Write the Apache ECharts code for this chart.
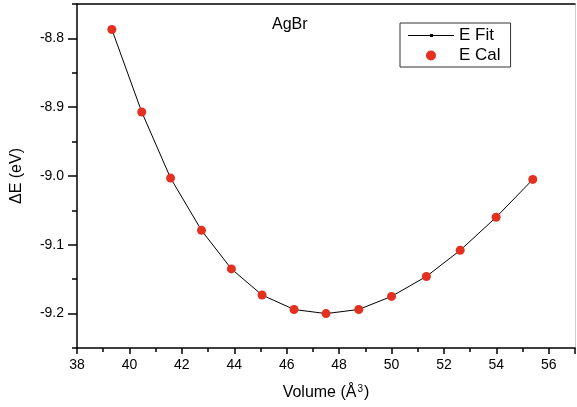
<!DOCTYPE html>
<html>
<head>
<meta charset="utf-8">
<script src="https://cdn.jsdelivr.net/npm/echarts@6/dist/echarts.min.js"></script>
<style>
html, body { margin: 0; padding: 0; background: #fff; }
#chartmain { width: 577px; height: 407px; }
</style>
</head>
<body>
<div id="chartmain"></div>
<script>
// volume (A^3) and energy (eV)
var volume = [39.33, 40.47, 41.57, 42.75, 43.89, 45.06, 46.28, 47.5, 48.75, 50.0, 51.33, 52.62, 53.99, 55.39];
var energyCal = [-8.787, -8.907, -9.003, -9.079, -9.135, -9.173, -9.194, -9.200, -9.194, -9.175, -9.146, -9.108, -9.060, -9.005];
var energyFit = [-8.787, -8.907, -9.003, -9.079, -9.135, -9.173, -9.194, -9.200, -9.194, -9.175, -9.146, -9.108, -9.060, -9.005];
var yTicks = [-9.2, -9.1, -9.0, -8.9, -8.8];

var fitData = [];
var calData = [];
for (var i = 0; i < volume.length; i++) {
	fitData.push([volume[i], energyFit[i]]);
	calData.push([volume[i], energyCal[i]]);
}

var font = 'Liberation Sans';

var option = {
	animation : false,
	backgroundColor : '#fff',
	textStyle : { fontFamily : font },
	title : {
		text : 'AgBr',
		left : 267,
		top : 12,
		textStyle : { fontFamily : font, fontSize : 16, fontWeight : 'normal', color : '#000' }
	},
	legend : {
		orient : 'vertical',
		left : 400,
		top : 23,
		padding : [4, 10, 3, 8],
		itemGap : 3,
		itemWidth : 46,
		itemHeight : 10,
		borderColor : '#333',
		borderWidth : 1,
		textStyle : { fontFamily : font, fontSize : 17, color : '#000' },
		data : [ {
			name : 'E Fit',
			icon : 'path://M0,4.5L46,4.5L46,5.5L0,5.5Z M22,3.5L25,3.5L25,6.5L22,6.5Z',
			itemStyle : { color : '#000' }
		}, {
			name : 'E Cal',
			icon : 'circle'
		} ]
	},
	grid : {
		left : 77,
		right : 2,
		top : 4,
		bottom : 59
	},
	xAxis : [ {
		type : 'value',
		min : 38,
		max : 57,
		interval : 2,
		name : '{a|Volume (Å}{s|3}{a|)}',
		nameLocation : 'middle',
		nameGap : 36,
		nameTextStyle : {
			rich : {
				a : { fontFamily : font, fontSize : 16, color : '#000' },
				s : { fontFamily : font, fontSize : 10, color : '#000', verticalAlign : 'top', padding : [0, 1, 8, 1] }
			}
		},
		axisLine : { onZero : false, lineStyle : { color : '#000', width : 1.5 } },
		axisTick : { inside : false, length : 6, lineStyle : { color : '#000', width : 1.5 } },
		minorTick : { show : true, splitNumber : 2, length : 4, lineStyle : { color : '#000', width : 1.5 } },
		axisLabel : { fontFamily : font, fontSize : 14, color : '#000', margin : 10, showMaxLabel : false },
		splitLine : { show : false }
	}, {
		type : 'value',
		position : 'top',
		min : 38,
		max : 57,
		axisLine : { show : true, onZero : false, lineStyle : { color : '#000', width : 1.5 } },
		axisTick : { show : false },
		axisLabel : { show : false },
		splitLine : { show : false }
	} ],
	yAxis : [ {
		type : 'value',
		min : -9.25,
		max : -8.75,
		interval : 0.05,
		name : 'ΔE (eV)',
		nameLocation : 'middle',
		nameGap : 52,
		nameTextStyle : { fontFamily : font, fontSize : 16, color : '#000' },
		axisLine : { onZero : false, lineStyle : { color : '#000', width : 1.5 } },
		axisTick : { inside : false, length : 9, customValues : yTicks, lineStyle : { color : '#000', width : 1.5 } },
		axisLabel : {
			fontFamily : font, fontSize : 14, color : '#000', margin : 13,
			customValues : yTicks,
			formatter : function(v) { return v.toFixed(1); }
		},
		splitLine : { show : false }
	}, {
		type : 'value',
		position : 'right',
		min : -9.25,
		max : -8.75,
		axisLine : { show : true, onZero : false, lineStyle : { color : '#ccc', width : 1 } },
		axisTick : { show : false },
		axisLabel : { show : false },
		splitLine : { show : false }
	}, {
		// minor ticks every 0.05 on the left side
		type : 'value',
		position : 'left',
		min : -9.25,
		max : -8.75,
		interval : 0.05,
		axisLine : { show : false, onZero : false },
		axisTick : { show : true, inside : false, length : 5, lineStyle : { color : '#000', width : 1.5 } },
		axisLabel : { show : false },
		splitLine : { show : false }
	} ],
	series : [ {
		name : 'E Fit',
		type : 'line',
		data : fitData,
		symbol : 'circle',
		symbolSize : 3,
		itemStyle : { color : '#000' },
		lineStyle : { color : '#000', width : 1 },
		z : 2
	}, {
		name : 'E Cal',
		type : 'scatter',
		data : calData,
		symbol : 'circle',
		symbolSize : 9,
		itemStyle : { color : '#e3301f', opacity : 1 },
		z : 3
	} ]
};

var myChart = echarts.init(document.getElementById('chartmain'));
myChart.setOption(option);
</script>
</body>
</html>
